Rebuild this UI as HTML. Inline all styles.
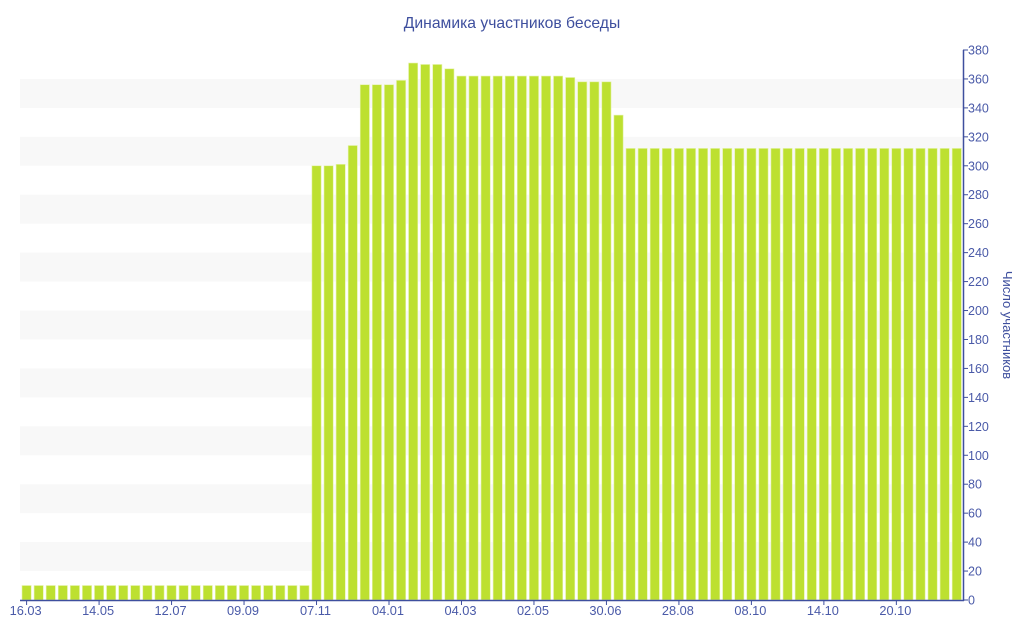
<!DOCTYPE html>
<html><head><meta charset="utf-8"><style>
html,body{margin:0;padding:0;background:#fff;}
svg{display:block;font-family:"Liberation Sans","DejaVu Sans",sans-serif;}
</style></head><body>
<svg width="1024" height="640" viewBox="0 0 1024 640" xmlns="http://www.w3.org/2000/svg">
<g id="bands" fill="#f8f8f8"></g>
<g id="bars" fill="#bde030" stroke="#e4f2a8" stroke-width="0.6"></g>
<line x1="20" y1="600.5" x2="964" y2="600.5" stroke="#3e4f9e" stroke-width="1.5"/>
<line x1="963.5" y1="50" x2="963.5" y2="601" stroke="#3e4f9e" stroke-width="1.5"/>
<g id="yt" fill="#4a5aa8" font-size="12.5"></g>
<g id="xt" fill="#4a5aa8" font-size="12.8" text-anchor="middle"></g>
<text x="512" y="28" text-anchor="middle" fill="#3e4f9e" font-size="15.7">Динамика участников беседы</text>
<text transform="translate(1003,325) rotate(90)" text-anchor="middle" fill="#3e4f9e" font-size="13">Число участников</text>
</svg>
<script>
var ns="http://www.w3.org/2000/svg";
function el(t,a,p,txt){var e=document.createElementNS(ns,t);for(var k in a)e.setAttribute(k,a[k]);if(txt!=null)e.textContent=txt;document.getElementById(p).appendChild(e);}
var s=550/380;function Y(v){return 600-v*s;}
for(var v=20;v<380;v+=40){el("rect",{x:20,y:Y(v+20),width:943,height:20*s},"bands");}
var d=[];for(var i=0;i<24;i++)d.push(10);
d=d.concat([300,300,301,314,356,356,356,359,371,370,370,367]);
for(i=0;i<9;i++)d.push(362);
d=d.concat([361,358,358,358,335]);
while(d.length<78)d.push(312);
var p=12.08;
for(i=0;i<d.length;i++){el("rect",{x:22+i*p,y:Y(d[i]),width:9.2,height:d[i]*s},"bars");}
for(v=0;v<=380;v+=20){var y=Y(v);el("line",{x1:963,x2:968,y1:y,y2:y,stroke:"#3e4f9e"},"yt");el("text",{x:968,y:y+4.5},"yt",v);}
var L=["16.03","14.05","12.07","09.09","07.11","04.01","04.03","02.05","30.06","28.08","08.10","14.10","20.10"];
for(i=0;i<L.length;i++){var x=26.6+i*6*p;el("line",{x1:x,x2:x,y1:600,y2:605,stroke:"#3e4f9e"},"xt");el("text",{x:x-1,y:615},"xt",L[i]);}
</script>
</body></html>
